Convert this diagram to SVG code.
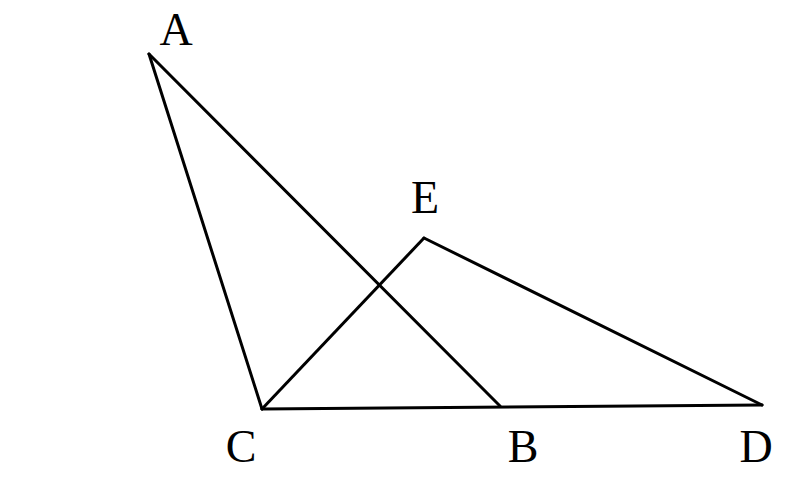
<svg xmlns="http://www.w3.org/2000/svg" width="800" height="500" viewBox="0 0 800 500">
<style>
.l{stroke:#000;stroke-width:3;fill:none;stroke-linecap:round}
.t{font-family:"Liberation Serif","Times New Roman",serif;font-size:46px;fill:#000;text-anchor:middle}
</style>
<rect width="800" height="500" fill="#fff"/>
<g id="connectors">
<line class="l" x1="149" y1="54" x2="262" y2="409"/>
<line class="l" x1="149" y1="54" x2="500" y2="406"/>
<line class="l" x1="262" y1="409" x2="762" y2="405"/>
<line class="l" x1="262" y1="409" x2="424" y2="238"/>
<line class="l" x1="424" y1="238" x2="762" y2="405"/>
</g>
<g id="A"><text class="t" x="176" y="45">A</text></g>
<g id="E"><text class="t" x="425" y="213">E</text></g>
<g id="C"><text class="t" x="241" y="462">C</text></g>
<g id="B"><text class="t" x="523" y="462">B</text></g>
<g id="D"><text class="t" x="756" y="462">D</text></g>
</svg>
